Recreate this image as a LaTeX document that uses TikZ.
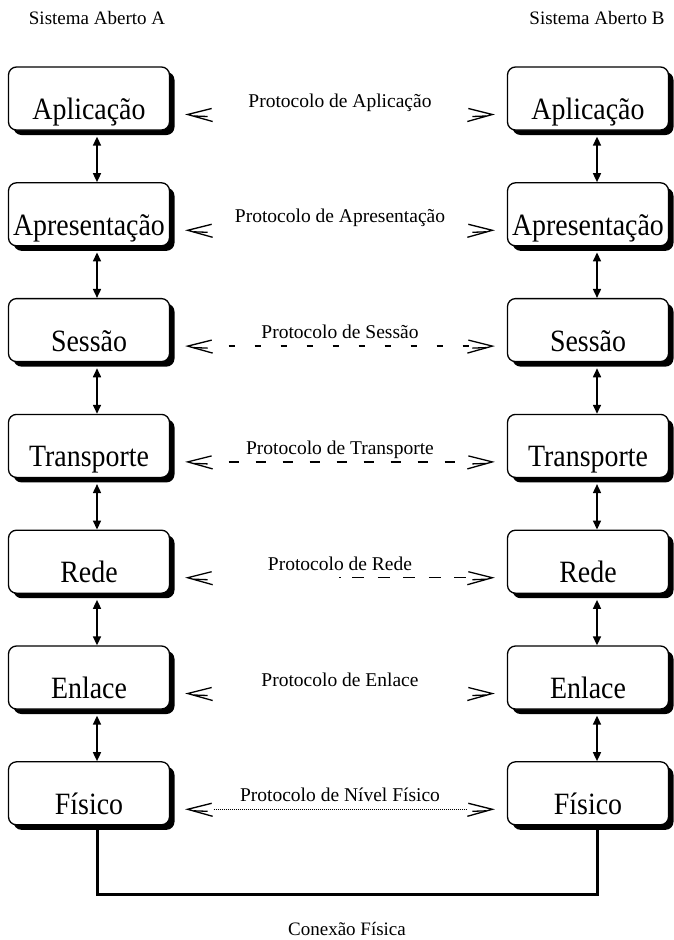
\documentclass[tikz,border=0pt]{standalone}
\usepackage{fontspec}
\setmainfont{Liberation Serif}
\newfontfamily\layerfont[FakeStretch=0.9]{Liberation Serif}
\usetikzlibrary{shadows,arrows.meta,calc}

\tikzset{
  layer/.style={rectangle, rounded corners=8pt, draw=black, line width=1.3pt,
    fill=white, minimum width=161pt, text height=52pt, text depth=10pt,
    inner xsep=0pt, inner ysep=0.5pt,
    font=\layerfont\fontsize{31}{31}\selectfont,
    drop shadow={shadow xshift=5pt, shadow yshift=-5pt, fill=black, opacity=1}},
  proto/.style={anchor=base, inner sep=0pt, font=\fontsize{19.5}{19.5}\selectfont},
  title/.style={anchor=base, inner sep=0pt, font=\fontsize{19}{19}\selectfont},
  updown/.style={line width=1.6pt, {Triangle[length=9pt,width=8pt]}-{Triangle[length=9pt,width=8pt]}},
  wire/.style={line width=3pt},
  tipline/.style={line width=1.3pt},
  dashline/.style={line width=1.5pt},
  ltip/.pic={\draw[tipline] (24,-6) -- (0,0) -- (25,7); \draw[tipline] (6,1.5) -- (20,2);},
  rtip/.pic={\draw[tipline] (-24,-6) -- (0,0) -- (-25,7); \draw[tipline] (-6,1.5) -- (-20,2);}
}

\begin{document}
\begin{tikzpicture}[x=1pt,y=-1pt]
\useasboundingbox (0,0) rectangle (673,940);

% columns of the two stacks
\coordinate (cA) at (97,0);
\coordinate (cB) at (597,0);
\coordinate (base) at (347,894);

\node[title] (tA) at (97,24) {Sistema Aberto A};
\node[title] (tB) at (597,24) {Sistema Aberto B};

\foreach \k/\lay/\prot in {
  1/Aplicação/Protocolo de Aplicação,
  2/Apresentação/Protocolo de Apresentação,
  3/Sessão/Protocolo de Sessão,
  4/Transporte/Protocolo de Transporte,
  5/Rede/Protocolo de Rede,
  6/Enlace/Protocolo de Enlace,
  7/Físico/Protocolo de Nível Físico}{
  \pgfmathsetmacro\yc{98.5+115.8*(\k-1)}
  \node[layer] (A\k) at (89,\yc) {\lay};
  \node[layer] (B\k) at (588,\yc) {\lay};
  \node[proto] (P\k) at (340,\yc+8.5) {\prot};
  \coordinate (L\k) at ($(A\k.east)+(17.5,16)$);
  \coordinate (R\k) at ($(B\k.west)+(-14.5,16)$);
  \pic at (L\k) {ltip};
  \pic at (R\k) {rtip};
}

% links between adjacent layers
\foreach \k in {1,...,6}{
  \pgfmathtruncatemacro\n{\k+1}
  \draw[updown] ($(A\k.south -| cA)+(0,6)$) -- (A\n.north -| cA);
  \draw[updown] ($(B\k.south -| cB)+(0,6)$) -- (B\n.north -| cB);
}

% peer protocol lines
\draw[dashline, dash pattern=on 6pt off 20pt] ($(L3)+(41,0)$) -- ($(R3)+(-22,0)$);
\draw[dashline, dash pattern=on 10pt off 17pt] ($(L4)+(41,0)$) -- ($(R4)+(-22,0)$);
\draw[dashline] ($(R5)+(-153,0)$) -- ++(1.5,0);
\draw[dashline, dash pattern=on 12pt off 13.5pt] ($(R5)+(-140,0)$) -- ($(R5)+(-24,0)$);
\draw[line width=1pt, dash pattern=on 1pt off 1pt] ($(L7)+(26,0)$) -- ($(R7)+(-26,0)$);

% physical connection
\draw[wire] (A7.south -| cA) |- (base) -| (B7.south -| cB);
\node[title] (cf) at (347,935) {Conexão Física};
\end{tikzpicture}
\end{document}
